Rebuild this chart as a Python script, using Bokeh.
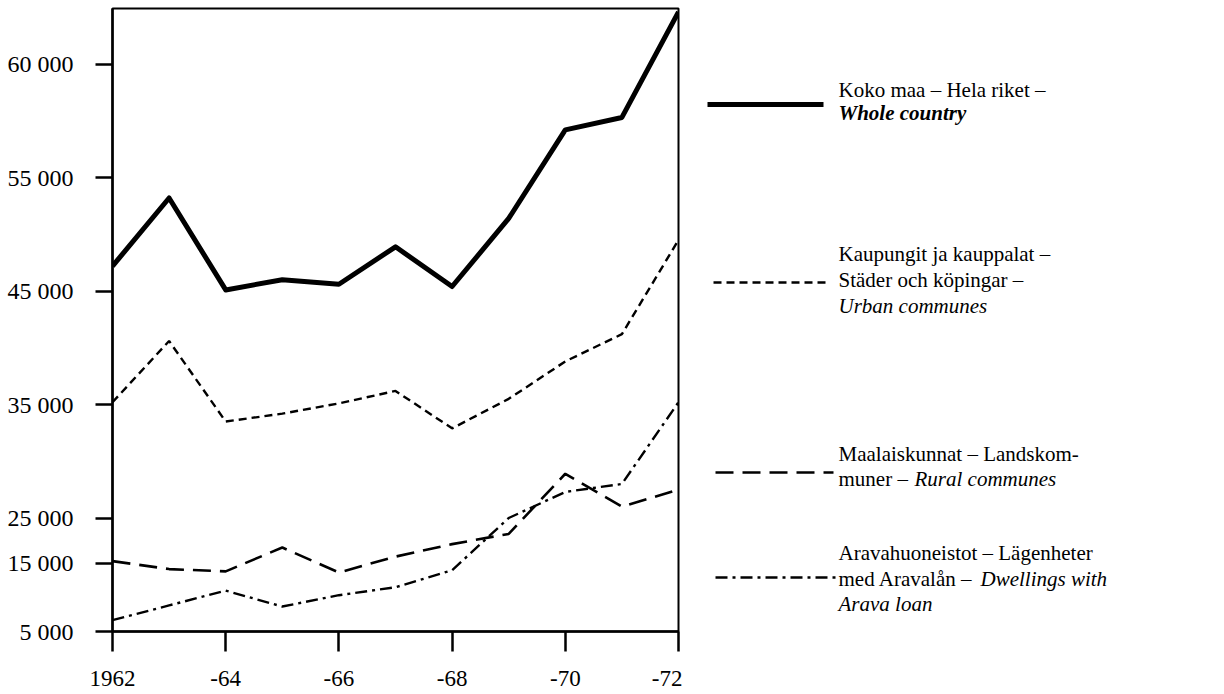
from bokeh.plotting import figure
from bokeh.models import Range1d, FixedTicker
from bokeh.layouts import row
from bokeh.embed import file_html
from bokeh.resources import INLINE
from bokeh.core.properties import value

# ---- data (y in the chart's linear drawing units) ----
years = [1962, 1963, 1964, 1965, 1966, 1967, 1968, 1969, 1970, 1971, 1972]
whole_country = [47200, 53200, 45100, 46000, 45600, 48900, 45400, 51400, 59200, 60300, 69600]
urban_communes = [35200, 40600, 33500, 34200, 35100, 36200, 32900, 35500, 38800, 41200, 49500]
rural_communes = [21200, 20500, 20300, 22400, 20200, 21600, 22700, 23600, 28900, 26000, 27500]
arava_loan = [16000, 17300, 18600, 17200, 18200, 18900, 20400, 25000, 27300, 28000, 35200]

x_ticks = [1962, 1964, 1966, 1968, 1970, 1972]
x_tick_labels = ["1962", "-64", "-66", "-68", "-70", "-72"]
y_ticks = [15000, 21000, 25000, 35000, 45000, 55000, 65000]
y_tick_labels = ["5 000", "15 000", "25 000", "35 000", "45 000", "55 000", "60 000"]

legend_regular = [
    "Koko maa \u2013 Hela riket \u2013",
    "Kaupungit ja kauppalat \u2013",
    "St\u00e4der och k\u00f6pingar \u2013",
    "Maalaiskunnat \u2013 Landskom-",
    "muner \u2013",
    "Aravahuoneistot \u2013 L\u00e4genheter",
    "med Araval\u00e5n \u2013",
]
legend_italic = [
    "Urban communes",
    "Rural communes",
    "Dwellings with",
    "Arava loan",
]
legend_bold_italic = ["Whole country"]

FONT = "Liberation Serif"

FRAME_TOP = 8
FRAME_BOTTOM = 631
FIG_H = 694

# ---- main chart ----
p = figure(width=682, height=FIG_H,
           x_range=Range1d(1962, 1972), y_range=Range1d(15000, 69900),
           output_backend="svg", toolbar_location=None,
           min_border_left=112, min_border_right=4,
           min_border_top=FRAME_TOP, min_border_bottom=FIG_H - FRAME_BOTTOM)
p.xgrid.visible = False
p.ygrid.visible = False
p.outline_line_color = "black"
p.outline_line_width = 2
p.outline_line_alpha = 1
p.background_fill_color = "white"
p.border_fill_color = "white"

p.xaxis.ticker = FixedTicker(ticks=x_ticks)
p.xaxis.major_label_overrides = dict(zip(x_ticks, x_tick_labels))
p.yaxis.ticker = FixedTicker(ticks=y_ticks)
p.yaxis.major_label_overrides = dict(zip(y_ticks, y_tick_labels))
for ax in (p.xaxis, p.yaxis):
    ax.axis_line_width = 2.5
    ax.axis_line_color = "black"
    ax.major_tick_line_width = 2.5
    ax.major_tick_line_color = "black"
    ax.minor_tick_line_color = None
    ax.major_tick_in = 0
    ax.major_label_text_font = FONT
    ax.major_label_text_color = "black"
p.xaxis.major_label_text_font_size = "23px"
p.yaxis.major_label_text_font_size = "24px"
p.xaxis.major_tick_out = 20
p.xaxis.major_label_standoff = 19
p.yaxis.major_tick_out = 17
p.yaxis.major_label_standoff = 22

p.line(years, whole_country, line_width=5, line_color="black", line_join="round")
p.line(years, urban_communes, line_width=2.4, line_color="black", line_dash="8 5")
p.line(years, rural_communes, line_width=2.6, line_color="black", line_dash="18 9")
p.line(years, arava_loan, line_width=2.4, line_color="black", line_dash="12 5 3 5")

# ---- legend panel (frame aligned with the chart's frame; y = page pixels) ----
q = figure(width=540, height=FIG_H,
           x_range=Range1d(0, 540), y_range=Range1d(FRAME_BOTTOM, FRAME_TOP),
           output_backend="svg", toolbar_location=None,
           x_axis_location=None, y_axis_location=None,
           min_border_left=0, min_border_right=0,
           min_border_top=FRAME_TOP, min_border_bottom=FIG_H - FRAME_BOTTOM)
q.grid.visible = False
q.outline_line_color = None
q.background_fill_color = "white"
q.border_fill_color = "white"

tx = 156
q.line([25, 141], [104, 104], line_width=5, line_color="black")
q.line([31, 145], [282, 282], line_width=2.4, line_color="black", line_dash="8 5")
q.line([33, 151], [472, 472], line_width=2.6, line_color="black", line_dash="18 9")
q.line([33, 155], [577, 577], line_width=2.4, line_color="black", line_dash="12 5 3 5")

q.text(x=[tx, tx, tx, tx, tx, tx, tx],
       y=[89, 253, 279, 453, 478, 552, 578],
       text=legend_regular,
       text_font=value(FONT), text_font_size="21px", text_color="black",
       text_baseline="middle", text_align="left")
q.text(x=[tx, 232, 298, tx],
       y=[305, 478, 578, 603],
       text=legend_italic,
       text_font=value(FONT), text_font_size="21px", text_color="black",
       text_font_style="italic", text_baseline="middle", text_align="left")
q.text(x=[tx], y=[112], text=legend_bold_italic,
       text_font=value(FONT), text_font_size="21px", text_color="black",
       text_font_style="bold italic", text_baseline="middle", text_align="left")

layout = row(p, q)
open("out.html", "w").write(file_html(layout, INLINE))
